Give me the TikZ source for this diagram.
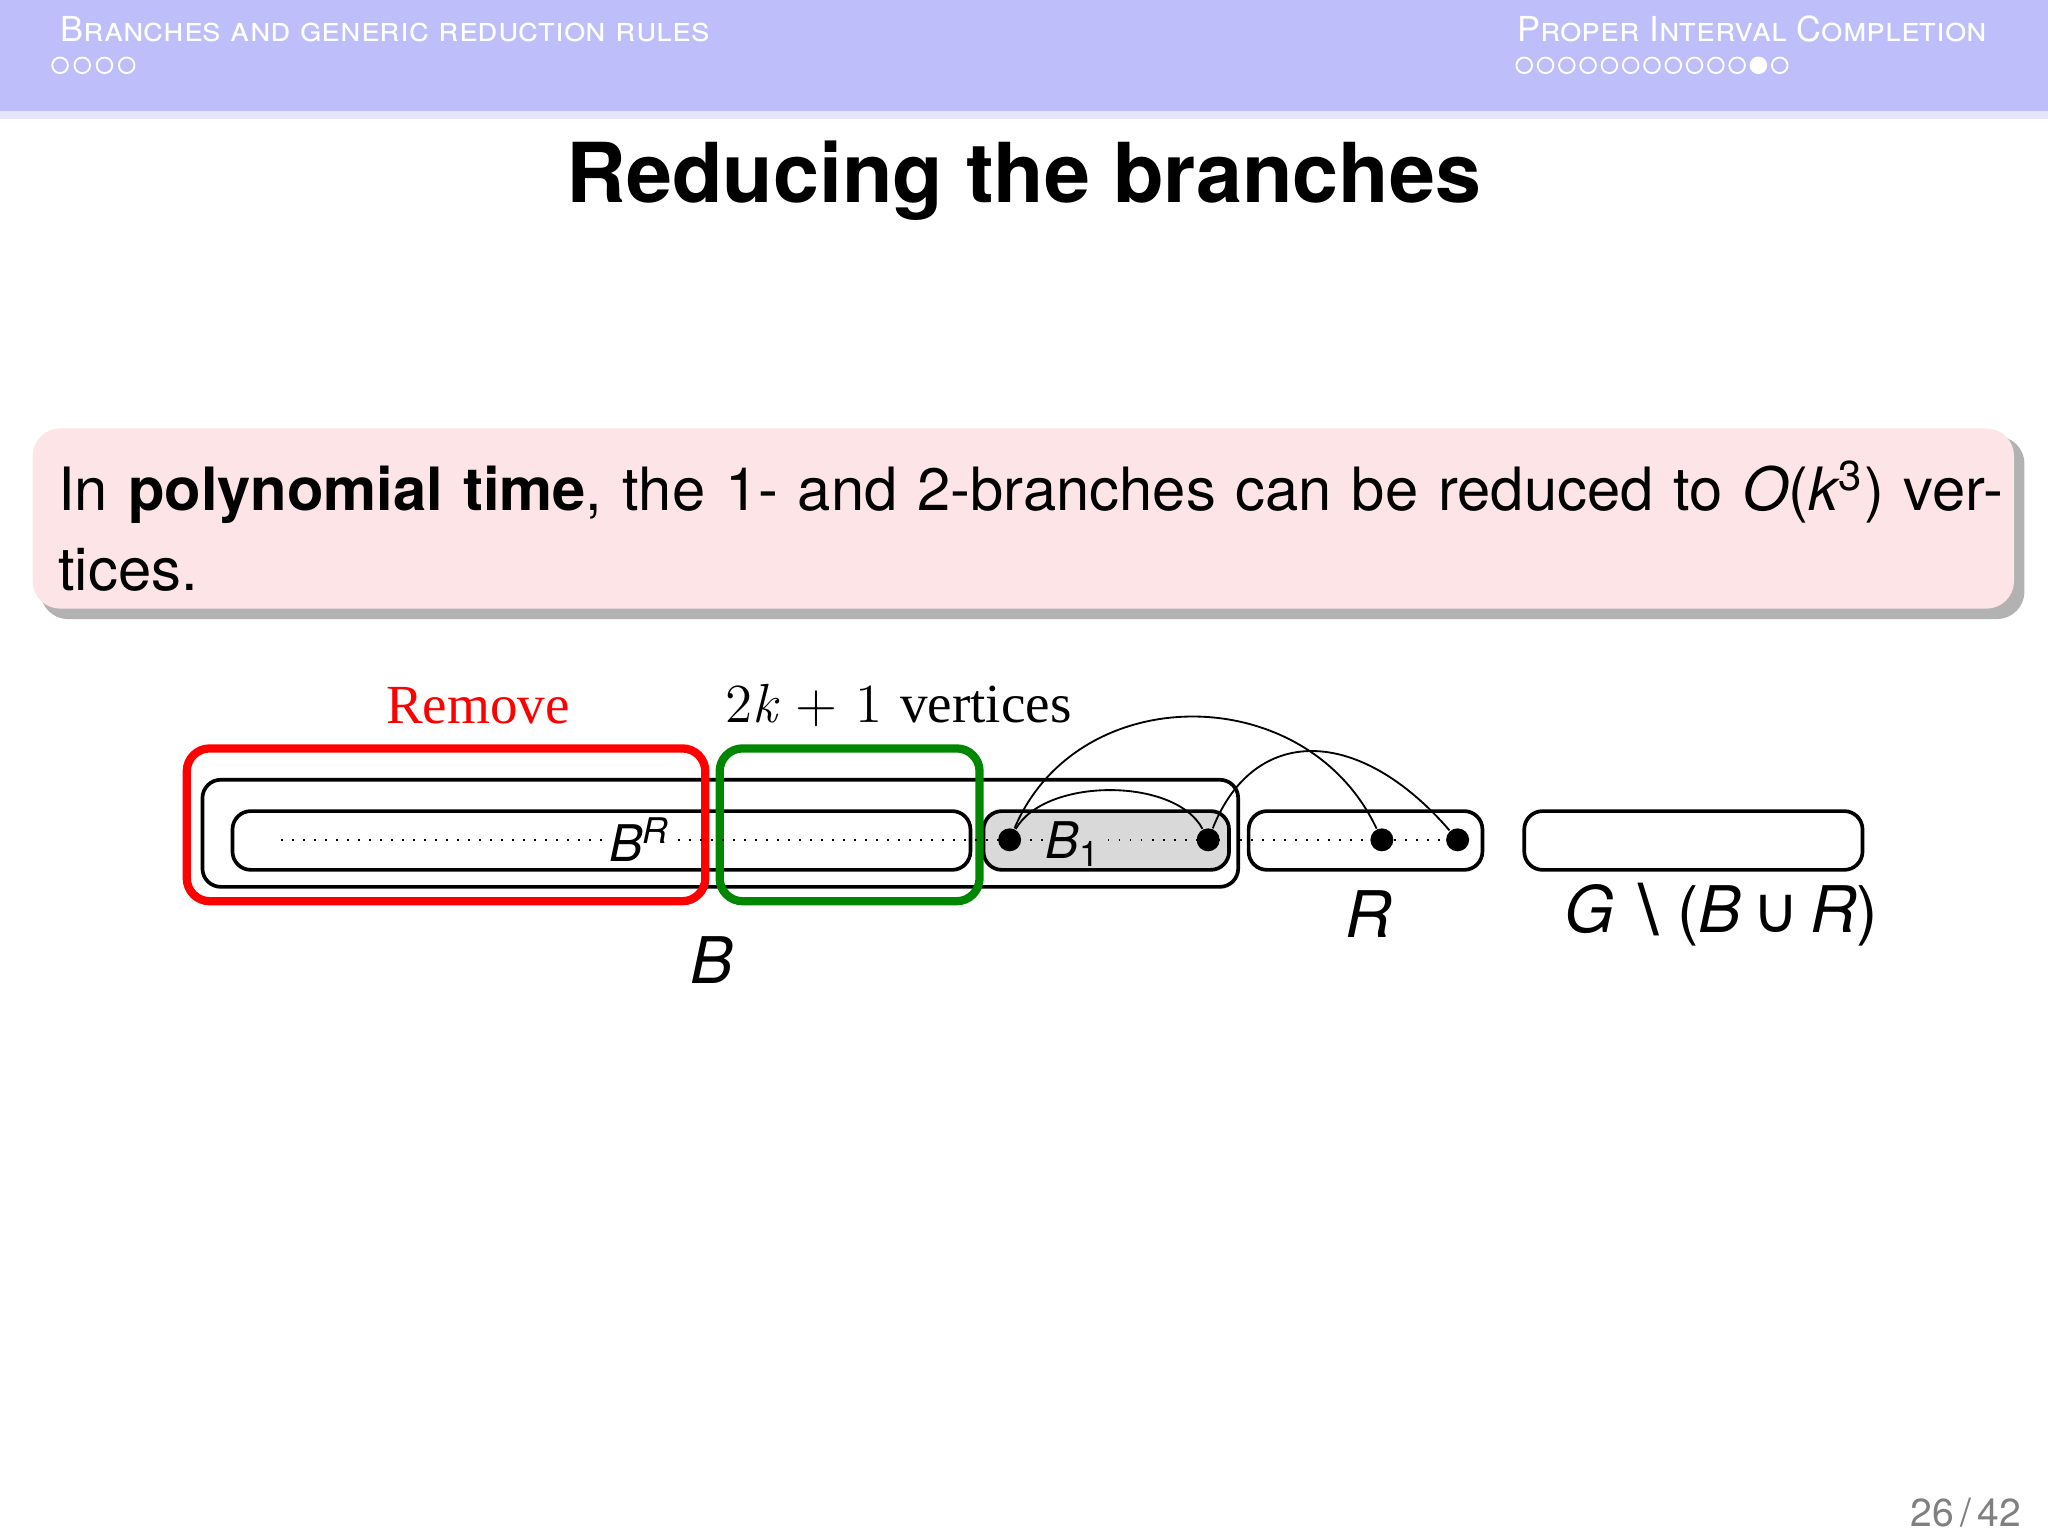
\documentclass[tikz,border=0pt]{standalone}
\usepackage{fontspec}
\setsansfont{TeX Gyre Heros}
\newfontfamily\serfont{Liberation Serif}
\newfontfamily\symfont{DejaVu Sans}
\definecolor{headband}{RGB}{190,190,250}
\definecolor{blockpink}{RGB}{253,228,230}
\definecolor{boxgreen}{RGB}{0,135,0}
\newcommand{\vi}[1]{{\itshape #1}}
\tikzset{
  setbox/.style={draw,rounded corners=4pt,line width=0.8pt},
  vtx/.style={circle,fill,inner sep=0pt,minimum size=5pt},
  navdot/.style={circle,draw=white,line width=0.4pt,inner sep=0pt,minimum size=3.4pt},
}
\begin{document}
\begin{tikzpicture}[x=0.01cm,y=-0.01cm,font=\sffamily]
\useasboundingbox (0,0) rectangle (1568,1176);
\fill[headband] (0,0) rectangle (1568,85);
\fill[headband!40] (0,85) rectangle (1568,91);
\node[anchor=west,white,font=\sffamily\fontsize{7.5}{9}\selectfont] (hl) at (34,22) {B\textsc{ranches and generic reduction rules}};
\node[anchor=east,white,font=\sffamily\fontsize{7.5}{9}\selectfont] (hr) at (1534,22) {P\textsc{roper} I\textsc{nterval} C\textsc{ompletion}};
\foreach \i in {0,...,3} \node[navdot] at (46+\i*17,50) {};
\foreach \i in {0,...,12} {
  \ifnum\i=11 \node[navdot,fill=white] at (1167+\i*16.3,50) {};
  \else \node[navdot] at (1167+\i*16.3,50) {}; \fi
}
\node[font=\sffamily\bfseries\fontsize{18}{22}\selectfont] (title) at (784,138) {Reducing the branches};
% theorem block
\fill[black!30,rounded corners=6pt] (31,334) rectangle (1550,474);
\fill[blockpink,rounded corners=6pt] (25,328) rectangle (1542,466);
\node[anchor=north west,align=left,text width=15.1cm,inner sep=0pt,font=\sffamily\fontsize{13}{17.5}\selectfont] (thm) at (44,352)
  {In \textbf{polynomial time}, the 1- and 2-branches can be reduced to \vi{O}(\vi{k}\textsuperscript{3}) vertices.};
% branch picture
\draw[setbox] (155,597) rectangle (948,679);
\draw[setbox] (178,621) rectangle (743,666);
\draw[setbox,fill=black!15] (753,621) rectangle (941,666);
\draw[setbox] (956,621) rectangle (1135,666);
\draw[setbox] (1167,621) rectangle (1426,666);
\draw[red,line width=1.8pt,rounded corners=5pt] (143,573) rectangle (540,690);
\draw[boxgreen,line width=1.8pt,rounded corners=5pt] (551,573) rectangle (750,690);
\draw[dotted] (215,643) -- (1115,643);
\node[vtx] (u1) at (773,643) {};
\node[vtx] (u2) at (925,643) {};
\node[vtx] (r1) at (1058,643) {};
\node[vtx] (r2) at (1116,643) {};
\draw[thin] (u1) .. controls (800,595) and (900,595) .. (u2);
\draw[thin] (u1) .. controls (825,520) and (1000,520) .. (r1);
\draw[thin] (u2) .. controls (960,555) and (1040,555) .. (r2);
\node[fill=white,inner sep=0.5pt,font=\sffamily\fontsize{11}{12}\selectfont] (lbr) at (490,643) {\vi{B}\textsuperscript{\vi{R}}};
\node[fill=black!15,inner sep=0.5pt,font=\sffamily\fontsize{11}{12}\selectfont] (lb1) at (822,646) {\vi{B}\textsubscript{1}};
\node[red,font=\serfont\fontsize{12}{14}\selectfont] (lrem) at (366,540) {Remove};
\node[font=\fontsize{12}{14}\selectfont] (lver) at (688,540) {2\vi{k} + 1 {\serfont vertices}};
\node[font=\sffamily\fontsize{14}{16}\selectfont] (lr) at (1048,700) {\vi{R}};
\node[font=\sffamily\fontsize{14}{16}\selectfont] (lg) at (1318,700) {\vi{G}\,{\symfont∖}\,(\vi{B}\,{\symfont∪}\,\vi{R})};
\node[font=\sffamily\fontsize{14}{16}\selectfont] (lb) at (545,735) {\vi{B}};
\node[black!50,font=\sffamily\fontsize{8.5}{10}\selectfont] (pg) at (1505,1158) {26\,/\,42};
\end{tikzpicture}
\end{document}
